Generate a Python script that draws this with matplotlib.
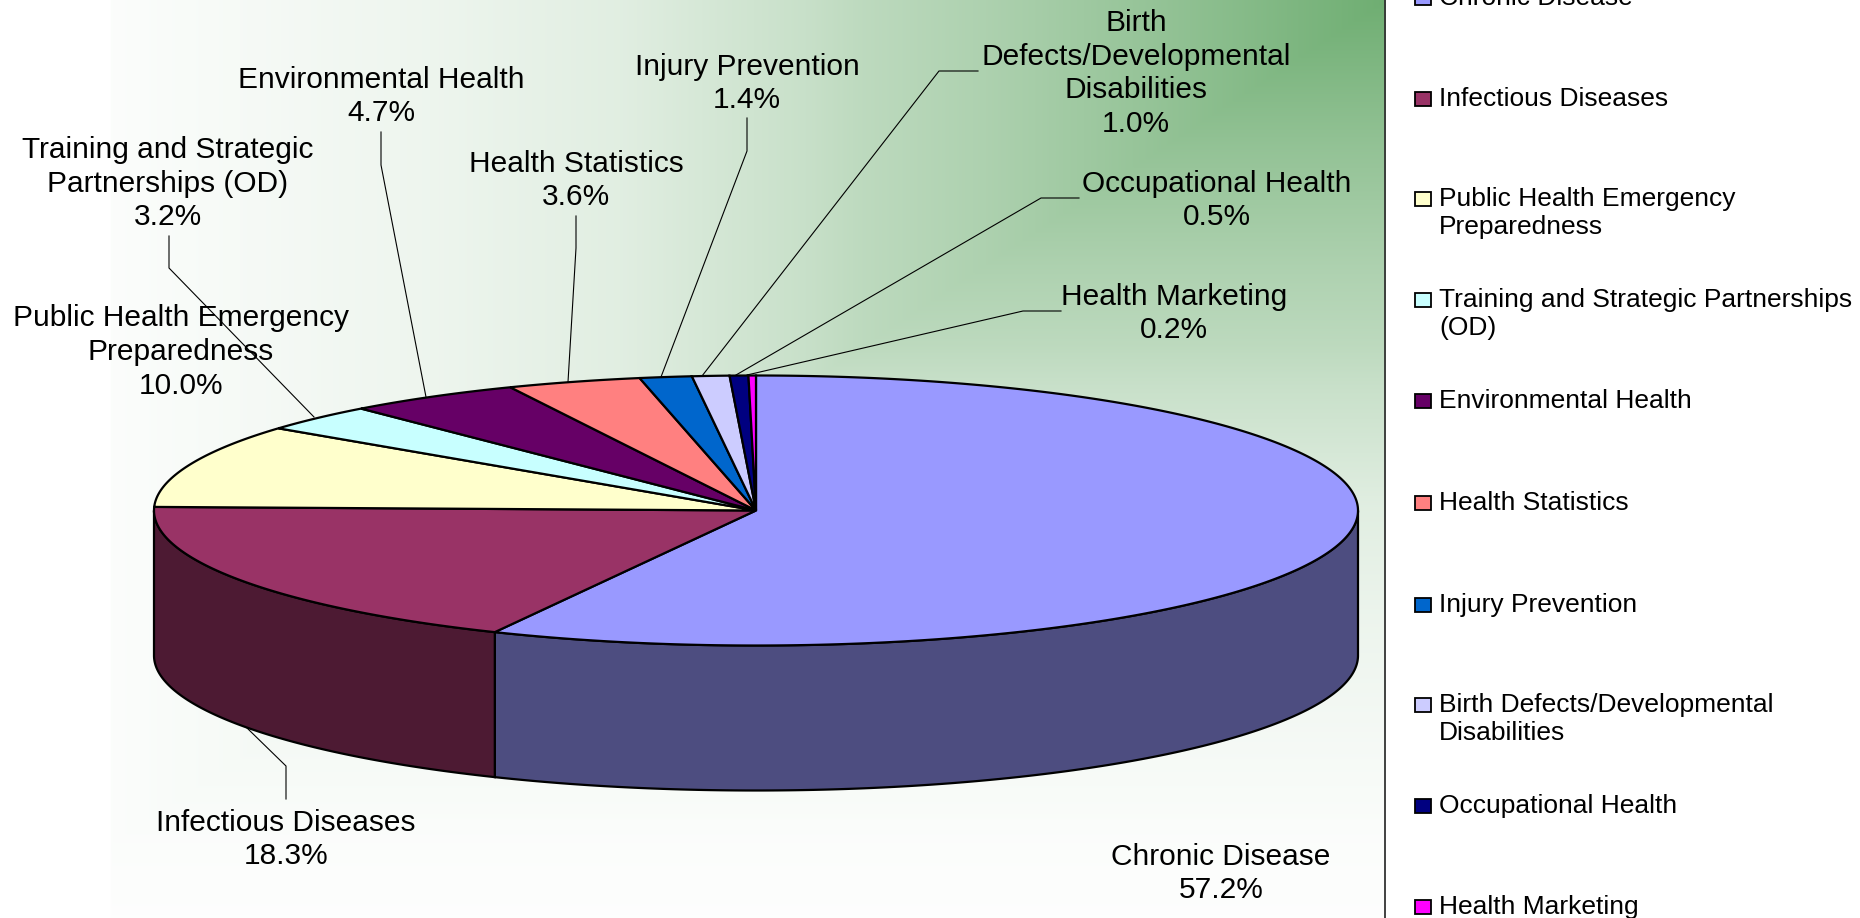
'''Pie chart of program shares, drawn as a tilted 3D disc'''

#Libraries
import numpy as np
import matplotlib
matplotlib.use('Agg')
import matplotlib.pyplot as plt
from matplotlib.patches import Polygon, Rectangle

plt.rcParams['font.family'] = ['Liberation Sans', 'DejaVu Sans']

#Data
Names = ['Chronic Disease', 'Infectious Diseases', 'Public Health Emergency Preparedness',
         'Training and Strategic Partnerships (OD)', 'Environmental Health', 'Health Statistics',
         'Injury Prevention', 'Birth Defects/Developmental Disabilities',
         'Occupational Health', 'Health Marketing']
Shares = [57.2, 18.3, 10.0, 3.2, 4.7, 3.6, 1.4, 1.0, 0.5, 0.2]
Top_Colors = ['#9999FF', '#993366', '#FFFFCC', '#C8FFFF', '#660066',
              '#FF8080', '#0066CC', '#CCCCFF', '#000080', '#FF00FF']
Side_Colors = ['#4D4D80', '#4D1A33']

Label_Text = ['Chronic Disease', 'Infectious Diseases', 'Public Health Emergency\nPreparedness',
              'Training and Strategic\nPartnerships (OD)', 'Environmental Health', 'Health Statistics',
              'Injury Prevention', 'Birth\nDefects/Developmental\nDisabilities',
              'Occupational Health', 'Health Marketing']
Label_Pos = [(1221, 873.5), (286, 839.5), (181, 352), (168, 183.5), (381, 96.5),
             (576, 180.5), (747, 83.5), (1136, 73.5), (1217, 200.5), (1174, 313.5)]
Leaders = [None,
           [(247, 728), (286, 766), (286, 799)],
           None,
           [(169, 236), (169, 268), (314, 417)],
           [(381, 132), (381, 165), (426, 397)],
           [(576, 216), (576, 248), (568, 382)],
           [(747, 118), (747, 151), (661, 377)],
           [(978, 71), (939, 71), (702, 376)],
           [(1079, 198), (1041, 198), (736, 375)],
           [(1061, 311), (1023, 311), (747, 375)]]

Legend_Text = ['Chronic Disease', 'Infectious Diseases', 'Public Health Emergency\nPreparedness',
               'Training and Strategic Partnerships\n(OD)', 'Environmental Health', 'Health Statistics',
               'Injury Prevention', 'Birth Defects/Developmental\nDisabilities',
               'Occupational Health', 'Health Marketing']
Legend_Y = [-2, 98.5, 199, 300, 401, 503, 605, 705, 806, 907]

#Geometry in pixels of the output
CX, CY, RX, RY, DEPTH = 756, 510.5, 602, 135, 145
PANEL_RIGHT = 1385
FADE_LEFT = 0.079

#Corner fade of the panel: distance from the top right corner -> strength of the green
Fade_Dist = [0.0, 0.165, 0.294, 0.376, 0.42, 0.55, 0.68, 0.807, 0.917, 1.0]
Fade_Strength = [1.0, 0.74, 0.56, 0.46, 0.38, 0.21, 0.125, 0.07, 0.025, 0.012]


def Rim(start, stop):
    '''Points along the top rim, angles clockwise from 12 o'clock'''
    angle = np.radians(np.linspace(start, stop, max(int(abs(stop - start) * 3), 2)))
    return np.column_stack([CX + RX * np.sin(angle), CY - RY * np.cos(angle)])


def Background(ax):
    '''Rectangular green fade out of the top right corner of the plot panel'''
    xx, yy = np.meshgrid(np.linspace(0, 1, 700), np.linspace(0, 1, 460))
    dist = np.maximum(1 - xx, yy)
    t = np.interp(dist, Fade_Dist, Fade_Strength)
    t[xx < FADE_LEFT] = 0
    t = t[:, :, None]
    green = np.array([111, 174, 114]) / 255
    img = 1 - t * (1 - green)
    ax.imshow(img, extent=[0, PANEL_RIGHT, 918, 0], aspect='auto', zorder=0)
    ax.plot([PANEL_RIGHT, PANEL_RIGHT], [0, 918], color='#333333', lw=1.3, zorder=1)


def Sides(ax, edges):
    '''Front wall of the disc, only the part facing the viewer'''
    for i in range(len(Side_Colors)):
        start = max(edges[i], 90)
        stop = min(edges[i + 1], 270)
        top = Rim(start, stop)
        bottom = top[::-1] + [0, DEPTH]
        ax.add_patch(Polygon(np.vstack([top, bottom]), closed=True, facecolor=Side_Colors[i],
                             edgecolor='black', lw=1.6, zorder=2))


def Slices(ax, edges):
    '''Top face of the disc'''
    for i in range(len(Shares)):
        pts = np.vstack([[CX, CY], Rim(edges[i], edges[i + 1])])
        ax.add_patch(Polygon(pts, closed=True, facecolor=Top_Colors[i],
                             edgecolor='black', lw=1.6, zorder=3))


def Labels(ax):
    '''Data labels with their leader lines'''
    for i in range(len(Shares)):
        ax.text(Label_Pos[i][0], Label_Pos[i][1], '%s\n%.1f%%' % (Label_Text[i], Shares[i]),
                ha='center', va='center', fontsize=21.5, linespacing=1.27, color='black', zorder=5)
        if Leaders[i] is not None:
            xs = [p[0] for p in Leaders[i]]
            ys = [p[1] for p in Leaders[i]]
            ax.plot(xs, ys, color='black', lw=0.8, zorder=4)


def Legend(ax):
    '''Legend keys and text on the white strip'''
    for i in range(len(Names)):
        y = Legend_Y[i]
        ax.add_patch(Rectangle((1415, y - 7), 16, 14, facecolor=Top_Colors[i],
                               edgecolor='black', lw=1.3, zorder=3))
        if '\n' in Legend_Text[i]:
            ax.text(1439, y - 12, Legend_Text[i], ha='left', va='top',
                    fontsize=19, linespacing=1.2, color='black', zorder=5)
        else:
            ax.text(1439, y + 0, Legend_Text[i], ha='left', va='center',
                    fontsize=19, color='black', zorder=5)


#Main
if __name__ == "__main__":

    fig = plt.figure(figsize=(18.6, 9.18), dpi=100)
    ax = fig.add_axes([0, 0, 1, 1])
    ax.set_xlim(0, 1860)
    ax.set_ylim(918, 0)
    ax.axis('off')

    Edges = np.concatenate([[0], np.cumsum(Shares)]) / sum(Shares) * 360

    Background(ax)
    Sides(ax, Edges)
    Slices(ax, Edges)
    Labels(ax)
    Legend(ax)
    ax.set_xlim(0, 1860)
    ax.set_ylim(918, 0)

    fig.savefig('out.png', dpi=100)
